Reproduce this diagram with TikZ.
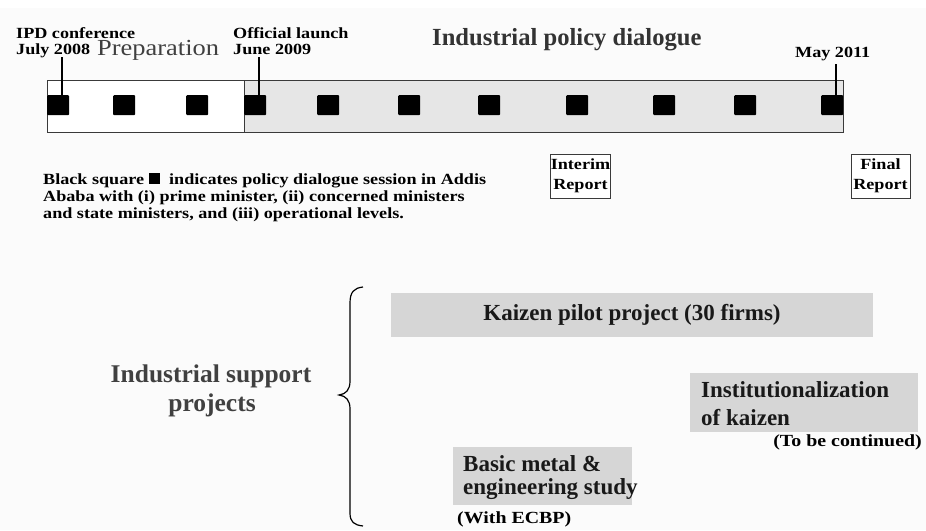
\documentclass[tikz,border=0pt]{standalone}
\usepackage{fontspec}
\setmainfont{Liberation Serif}
\newfontfamily\stretchfam{Liberation Serif}[FakeStretch=1.17]
\newfontfamily\prepfam{Liberation Serif}[FakeStretch=1.15]
\definecolor{bgc}{HTML}{FBFBFB}
\definecolor{tlgrey}{HTML}{E6E6E6}
\definecolor{boxgrey}{HTML}{D6D6D6}
\definecolor{edge}{HTML}{3A3A3A}
\definecolor{darktext}{HTML}{333333}
\definecolor{midtext}{HTML}{404040}
\newcommand\smallbold{\stretchfam\bfseries\fontsize{15.5}{17}\selectfont}
\newcommand\notebold{\stretchfam\bfseries\fontsize{17}{19}\selectfont}
\newcommand\bigbold{\bfseries\fontsize{23}{26}\selectfont}
\tikzset{
  lab/.style={font=\smallbold, inner sep=0pt, anchor=base west},
  sq/.style={fill=black, draw=none, minimum width=22pt, minimum height=20pt, inner sep=0pt, rounded corners=1pt},
  tick/.style={line width=1.3pt, black},
  report/.style={draw=edge, fill=white, line width=0.8pt, font=\smallbold, align=center, inner sep=0pt, minimum width=59pt, minimum height=44pt},
  projbox/.style={fill=boxgrey, draw=none, inner sep=0pt},
  projtext/.style={font=\bigbold, text=black!90, inner sep=0pt, anchor=base west},
  note/.style={font=\notebold, inner sep=0pt},
}
\begin{document}
\begin{tikzpicture}[x=1pt,y=-1pt]
\useasboundingbox (0,0) rectangle (926,530);
\fill[white] (0,0) rectangle (926,530);
\fill[bgc] (0,8) rectangle (926,530);
% timeline bar
\fill[tlgrey] (244,80) rectangle (843,132);
\fill[white] (47,80) rectangle (244,132);
\draw[edge, line width=0.9pt] (47,80) rectangle (843,132);
\draw[edge, line width=0.9pt] (244,80) -- (244,132);
% squares
\foreach \i/\x in {1/47,2/113,3/186,4/244,5/317,6/398,7/478,8/566,9/653,10/734,11/821}{
  \node[sq, anchor=north west] (s\i) at (\x,95) {};
}
% labels
\node[lab] (ipd) at (16,38) {IPD conference};
\node[lab] (jul) at (16,54) {July 2008};
\node[lab] (off) at (233,38) {Official launch};
\node[lab] (jun) at (233,54) {June 2009};
\node[lab] (may) at (795,57) {May 2011};
\node[font=\prepfam\fontsize{23}{25}\selectfont, text=midtext, inner sep=0pt, anchor=base west] (prep) at (97,55) {Preparation};
\node[font=\bfseries\fontsize{24.6}{27}\selectfont, text=darktext, inner sep=0pt, anchor=base west] (ipdlg) at (432,45) {Industrial policy dialogue};
% ticks
\coordinate (t1) at (62,57);
\coordinate (t2) at (259,57);
\coordinate (t3) at (836,64);
\draw[tick] (t1) -- (t1 |- s1.north);
\draw[tick] (t2) -- (t2 |- s4.north);
\draw[tick] (t3) -- (t3 |- s11.north);
% legend
\node[lab] (leg1) at (43,184) {Black square \rule{11pt}{11pt}\hspace{5pt} indicates policy dialogue session in Addis};
\node[lab] (leg2) at (43,201) {Ababa with (i) prime minister, (ii) concerned ministers};
\node[lab] (leg3) at (43,218) {and state ministers, and (iii) operational levels.};
% reports
\node[report] (interim) at (580.5,176) {Interim\\[3pt]Report};
\node[report] (final) at (880.5,176) {Final\\[3pt]Report};
% industrial support projects
\node[font=\bfseries\fontsize{25.5}{28}\selectfont, text=midtext, inner sep=0pt, anchor=base] (isp1) at (211,382) {Industrial support};
\node[font=\bfseries\fontsize{25.5}{28}\selectfont, text=midtext, inner sep=0pt, anchor=base] (isp2) at (212,411) {projects};
% brace
\draw[line width=1.2pt, black] (363,287) .. controls (354,288) and (350,292) .. (350,303) -- (350,381) .. controls (350,390) and (346,394) .. (339,395) .. controls (346,396) and (350,400) .. (350,409) -- (350,513) .. controls (350,522) and (354,525) .. (363,526);
% project boxes
\node[projbox, minimum width=482pt, minimum height=44pt, font=\bigbold, text=black!90] (kaizen) at (632,315) {Kaizen pilot project (30 firms)};
\node[projbox, minimum width=228pt, minimum height=59pt] (inst) at (804,402.5) {};
\node[projtext] (inst1) at (701,397) {Institutionalization};
\node[projtext] (inst2) at (701,425) {of kaizen};
\node[note, anchor=base east] (cont) at (922,446) {(To be continued)};
\node[projbox, minimum width=179pt, minimum height=58pt] (basic) at (542.5,476) {};
\node[projtext] (basic1) at (463,471) {Basic metal \&};
\node[projtext] (basic2) at (463,494) {engineering study};
\node[note, anchor=base west] (ecbp) at (457,523) {(With ECBP)};
\end{tikzpicture}
\end{document}
